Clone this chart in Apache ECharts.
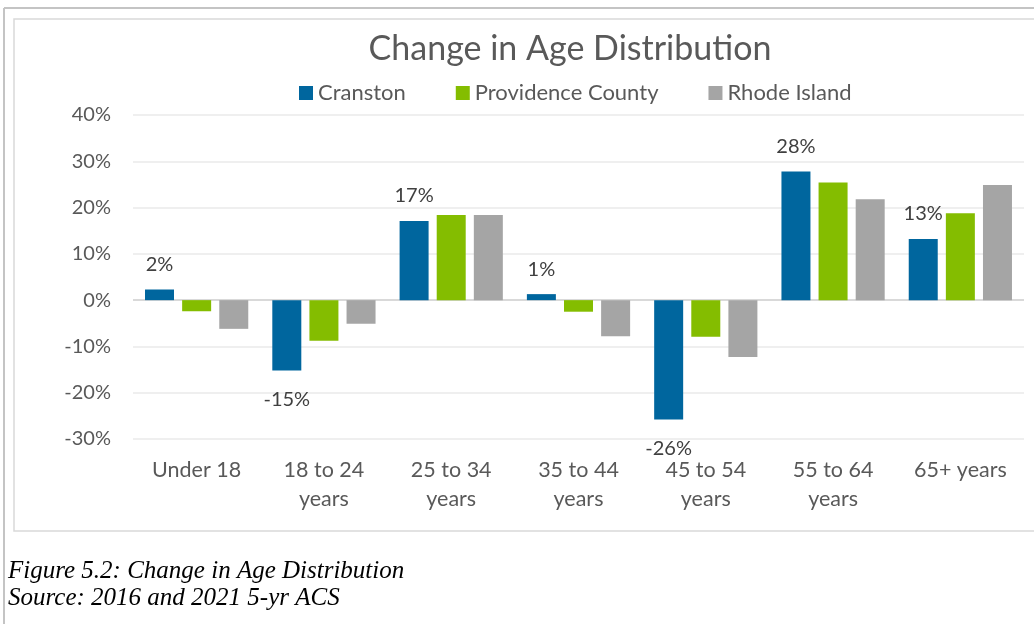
<!DOCTYPE html>
<html>
<head>
<meta charset="UTF-8">
<title>Change in Age Distribution</title>
<script src="https://cdn.jsdelivr.net/npm/echarts@6/dist/echarts.min.js"></script>
<style>
  body { margin: 0; background: #fff; }
  #main { width: 1034px; height: 624px; }
</style>
</head>
<body>
<div id="main"></div>
<script>
var categories = ['Under 18', '18 to 24\nyears', '25 to 34\nyears', '35 to 44\nyears', '45 to 54\nyears', '55 to 64\nyears', '65+ years'];
var seriesNames = ['Cranston', 'Providence County', 'Rhode Island'];
var cranston = [2.3, -15.2, 17.1, 1.3, -25.8, 27.8, 13.2];
var providence = [-2.4, -8.8, 18.4, -2.5, -7.9, 25.4, 18.8];
var rhodeIsland = [-6.2, -5.1, 18.4, -7.8, -12.3, 21.8, 24.9];
var colors = ['#00669e', '#84bd00', '#a5a5a5'];

var font = 'Lato, "Open Sans", sans-serif';
var myChart = echarts.init(document.getElementById('main'));

// Cranston gets labels: above positive bars, below negative ones
var cranstonData = cranston.map(function (v) {
  return {
    value: v,
    label: v < 0 ? { position: 'bottom', distance: 19 } : { position: 'top', distance: 15 }
  };
});

var option = {
  backgroundColor: '#fff',
  animation: false,
  color: colors,
  title: {
    text: 'Change in Age Distribution',
    left: 565,
    textAlign: 'center',
    top: 27,
    textStyle: { fontFamily: font, fontSize: 34, fontWeight: 'normal', color: '#595959' }
  },
  legend: {
    data: seriesNames,
    left: 294,
    top: 77,
    itemWidth: 14,
    itemHeight: 14,
    itemGap: 50,
    icon: 'rect',
    textStyle: { fontFamily: font, fontSize: 22, color: '#595959', padding: [0, 0, 0, 0] }
  },
  grid: { left: 133, right: 10, top: 115, bottom: 185, containLabel: false },
  xAxis: {
    type: 'category',
    data: categories,
    axisLine: { show: false, onZero: false },
    axisTick: { show: false },
    axisLabel: { margin: 17, fontFamily: font, fontSize: 21.5, color: '#595959', lineHeight: 29 }
  },
  yAxis: {
    type: 'value',
    min: -30,
    max: 40,
    interval: 10,
    axisLine: { show: false },
    axisTick: { show: false },
    axisLabel: { margin: 22, formatter: '{value}%', fontFamily: font, fontSize: 20, color: '#595959' },
    splitLine: { lineStyle: { color: '#efefef', width: 2 } }
  },
  graphic: [
    { type: 'line', shape: { x1: 4, y1: 8, x2: 1034, y2: 8 }, style: { stroke: '#c4c4c4', lineWidth: 2 } },
    { type: 'line', shape: { x1: 4, y1: 8, x2: 4, y2: 624 }, style: { stroke: '#c4c4c4', lineWidth: 2 } },
    { type: 'rect', shape: { x: 14, y: 19, width: 1040, height: 512 }, style: { fill: 'none', stroke: '#d9d9d9', lineWidth: 1.5 }, z: -1 },
    { type: 'text', left: 8, top: 559, style: { text: 'Figure 5.2: Change in Age Distribution', font: 'italic 25px "Liberation Serif", serif', fill: '#000' } },
    { type: 'text', left: 8, top: 586, style: { text: 'Source: 2016 and 2021 5-yr ACS', font: 'italic 25px "Liberation Serif", serif', fill: '#000' } }
  ],
  series: [
    {
      name: seriesNames[0],
      type: 'bar',
      data: cranstonData,
      barWidth: 29,
      barGap: '28%',
      label: {
        show: true,
        formatter: function (p) { return Math.round(p.value) + '%'; },
        fontFamily: font,
        fontSize: 20,
        color: '#404040'
      },
      markLine: {
        silent: true,
        symbol: 'none',
        label: { show: false },
        lineStyle: { color: '#d9d9d9', width: 2, type: 'solid' },
        data: [{ yAxis: 0 }],
        z: 1
      }
    },
    { name: seriesNames[1], type: 'bar', data: providence, barWidth: 29, barGap: '28%' },
    { name: seriesNames[2], type: 'bar', data: rhodeIsland, barWidth: 29, barGap: '28%' }
  ]
};
myChart.setOption(option);
</script>
</body>
</html>
